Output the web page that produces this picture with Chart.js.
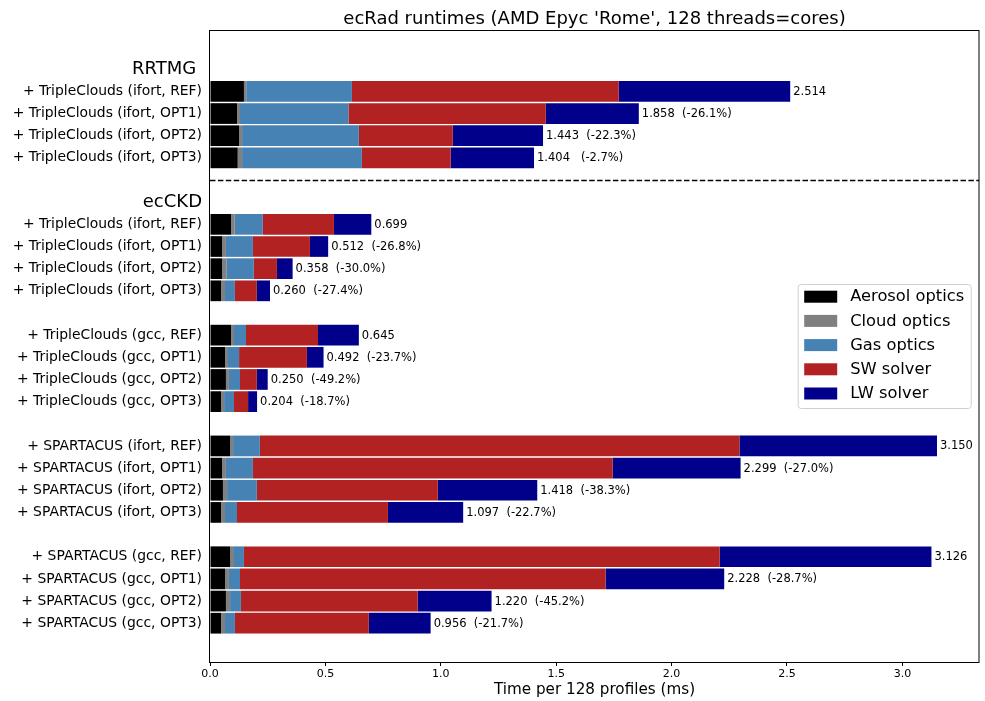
<!DOCTYPE html>
<html>
<head>
<meta charset="utf-8">
<script src="https://cdn.jsdelivr.net/npm/chart.js@4.4.1/dist/chart.umd.min.js"></script>
<style>
  html, body { margin: 0; padding: 0; background: #ffffff; }
  #wrap { width: 985px; height: 701px; position: relative; }
</style>
</head>
<body>
<div id="wrap"><canvas id="chart"></canvas></div>
<script>
// One slot per row of the chart; empty strings are spacer rows.
const categories = [
  '', 'RRTMG ',
  '+ TripleClouds (ifort, REF)', '+ TripleClouds (ifort, OPT1)', '+ TripleClouds (ifort, OPT2)', '+ TripleClouds (ifort, OPT3)',
  '', 'ecCKD',
  '+ TripleClouds (ifort, REF)', '+ TripleClouds (ifort, OPT1)', '+ TripleClouds (ifort, OPT2)', '+ TripleClouds (ifort, OPT3)',
  '',
  '+ TripleClouds (gcc, REF)', '+ TripleClouds (gcc, OPT1)', '+ TripleClouds (gcc, OPT2)', '+ TripleClouds (gcc, OPT3)',
  '',
  '+ SPARTACUS (ifort, REF)', '+ SPARTACUS (ifort, OPT1)', '+ SPARTACUS (ifort, OPT2)', '+ SPARTACUS (ifort, OPT3)',
  '',
  '+ SPARTACUS (gcc, REF)', '+ SPARTACUS (gcc, OPT1)', '+ SPARTACUS (gcc, OPT2)', '+ SPARTACUS (gcc, OPT3)',
  ''
];
const headerLabels = ['RRTMG ', 'ecCKD'];

const seriesNames = ['Aerosol optics', 'Cloud optics', 'Gas optics', 'SW solver', 'LW solver'];
const seriesColors = ['#000000', '#808080', '#4682b4', '#b22222', '#00008b'];

// Runtime components (ms per 128 profiles), null for spacer/header rows
const aerosol = [null, null, 0.147, 0.117, 0.126, 0.120, null, null, 0.091, 0.052, 0.052, 0.048, null, 0.091, 0.065, 0.069, 0.048, null, 0.087, 0.052, 0.056, 0.048, null, 0.087, 0.065, 0.069, 0.048, null];
const cloud   = [null, null, 0.010, 0.013, 0.013, 0.019, null, null, 0.016, 0.017, 0.019, 0.017, null, 0.013, 0.013, 0.013, 0.013, null, 0.013, 0.017, 0.018, 0.017, null, 0.017, 0.017, 0.018, 0.017, null];
const gas     = [null, null, 0.458, 0.470, 0.506, 0.519, null, null, 0.122, 0.117, 0.119, 0.043, null, 0.052, 0.048, 0.048, 0.043, null, 0.116, 0.117, 0.129, 0.052, null, 0.043, 0.048, 0.047, 0.043, null];
const swSolver = [null, null, 1.156, 0.855, 0.407, 0.385, null, null, 0.308, 0.247, 0.100, 0.095, null, 0.312, 0.294, 0.073, 0.061, null, 2.078, 1.559, 0.784, 0.654, null, 2.061, 1.584, 0.766, 0.580, null];
const lwSolver = [null, null, 0.743, 0.403, 0.391, 0.361, null, null, 0.162, 0.079, 0.068, 0.057, null, 0.177, 0.072, 0.047, 0.039, null, 0.856, 0.554, 0.431, 0.326, null, 0.918, 0.514, 0.320, 0.268, null];
// Change relative to the previous configuration (%)
const changePct = [null, null, null, -26.1, -22.3, -2.7, null, null, null, -26.8, -30.0, -27.4, null, null, -23.7, -49.2, -18.7, null, null, -27.0, -38.3, -22.7, null, null, -28.7, -45.2, -21.7, null];

const xTicks = [0.0, 0.5, 1.0, 1.5, 2.0, 2.5, 3.0];

const components = [aerosol, cloud, gas, swSolver, lwSolver];
const FONT = '"DejaVu Sans", "Liberation Sans", sans-serif';

const datasets = components.map((vals, k) => ({
  label: seriesNames[k],
  backgroundColor: seriesColors[k],
  borderWidth: 0,
  barPercentage: 0.935,
  categoryPercentage: 1.0,
  data: vals.map((v, i) => (v === null ? null : { x: v, y: i })).filter(p => p !== null)
}));

function rowTotal(i) {
  if (aerosol[i] === null) return null;
  return components.reduce((s, arr) => s + arr[i], 0);
}

const decorPlugin = {
  id: 'decor',
  afterDraw(chart) {
    const ctx = chart.ctx;
    const ca = chart.chartArea;
    const xs = chart.scales.x;
    const ys = chart.scales.y;
    ctx.save();

    // group separator (dashed) in the spacer row above ecCKD
    const sepSlot = categories.indexOf('ecCKD') - 1;
    const sepY = Math.round(ys.getPixelForValue(sepSlot)) + 0.5;
    ctx.strokeStyle = '#000000';
    ctx.lineWidth = 1.5;
    ctx.setLineDash([5.5, 2.4]);
    ctx.beginPath();
    ctx.moveTo(ca.left, sepY);
    ctx.lineTo(ca.right, sepY);
    ctx.stroke();
    ctx.setLineDash([]);

    // totals beside each bar
    ctx.fillStyle = '#000000';
    ctx.font = '11.5px ' + FONT;
    ctx.textAlign = 'left';
    ctx.textBaseline = 'middle';
    categories.forEach((_, i) => {
      const tot = rowTotal(i);
      if (tot === null) return;
      let txt = tot.toFixed(3);
      if (changePct[i] !== null) {
        txt += '  ' + ('(' + changePct[i].toFixed(1) + '%)').padStart(8, ' ');
      }
      ctx.fillText(txt, xs.getPixelForValue(tot) + 3, ys.getPixelForValue(i) + 0.5);
    });

    // axes frame
    ctx.strokeStyle = '#000000';
    ctx.lineWidth = 1;
    ctx.strokeRect(Math.round(ca.left) - 0.5, Math.round(ca.top) + 0.5,
                   Math.round(ca.right) - Math.round(ca.left) + 0.5,
                   Math.round(ca.bottom) - Math.round(ca.top));

    // legend, centred on the right of the plot
    const lw = 173, lh = 124;
    const lx = ca.right - 8.3 - lw;
    const ly = (ca.top + ca.bottom) / 2 - lh / 2;
    ctx.fillStyle = 'rgba(255,255,255,0.8)';
    ctx.strokeStyle = '#d0d0d0';
    ctx.lineWidth = 1;
    ctx.beginPath();
    ctx.roundRect(lx + 0.5, ly + 0.5, lw, lh, 3);
    ctx.fill();
    ctx.stroke();
    ctx.font = '16.3px ' + FONT;
    ctx.textBaseline = 'middle';
    seriesNames.forEach((name, k) => {
      const cy = ly + 12.7 + k * 24.2;
      ctx.fillStyle = seriesColors[k];
      ctx.fillRect(lx + 6.5, cy - 6, 33, 12);
      ctx.fillStyle = '#000000';
      ctx.fillText(name, lx + 52.5, cy + 0.5);
    });

    // title and axis title
    ctx.fillStyle = '#000000';
    ctx.textAlign = 'center';
    ctx.textBaseline = 'alphabetic';
    ctx.font = '18px ' + FONT;
    ctx.fillText("ecRad runtimes (AMD Epyc 'Rome', 128 threads=cores)", (ca.left + ca.right) / 2, 24);
    ctx.font = '15.2px ' + FONT;
    ctx.textBaseline = 'middle';
    ctx.fillText('Time per 128 profiles (ms)', (ca.left + ca.right) / 2, 690);

    ctx.restore();
  }
};

new Chart(document.getElementById('chart'), {
  type: 'bar',
  data: { datasets },
  options: {
    indexAxis: 'y',
    responsive: true,
    maintainAspectRatio: false,
    animation: false,
    layout: { padding: { top: 30, right: 6, bottom: 0, left: 0 } },
    plugins: { legend: { display: false }, tooltip: { enabled: false }, title: { display: false } },
    scales: {
      x: {
        type: 'linear',
        stacked: true,
        min: 0,
        max: 3.332,
        afterFit(scale) { scale.height = 39; },
        afterBuildTicks(scale) { scale.ticks = xTicks.map(v => ({ value: v })); },
        border: { display: false },
        grid: { display: true, drawOnChartArea: false, drawTicks: true, tickLength: 4, color: '#000000', lineWidth: 1 },
        ticks: {
          color: '#000000',
          padding: 2,
          font: { family: FONT, size: 11 },
          maxRotation: 0,
          autoSkip: false,
          callback: v => Number(v).toFixed(1)
        }
      },
      y: {
        type: 'linear',
        stacked: true,
        reverse: true,
        offset: false,
        min: -0.77,
        max: 27.75,
        afterFit(scale) { scale.width = 210; },
        afterBuildTicks(scale) { scale.ticks = categories.map((_, i) => ({ value: i })); },
        border: { display: false },
        grid: { display: false, drawTicks: false },
        ticks: {
          color: '#000000',
          padding: 8,
          autoSkip: false,
          callback: v => categories[v] ?? '',
          font: ctx => {
            const lbl = ctx.tick ? categories[ctx.tick.value] : '';
            return headerLabels.includes(lbl) ? { family: FONT, size: 18 } : { family: FONT, size: 13.9 };
          }
        }
      }
    }
  },
  plugins: [decorPlugin]
});
</script>
</body>
</html>
